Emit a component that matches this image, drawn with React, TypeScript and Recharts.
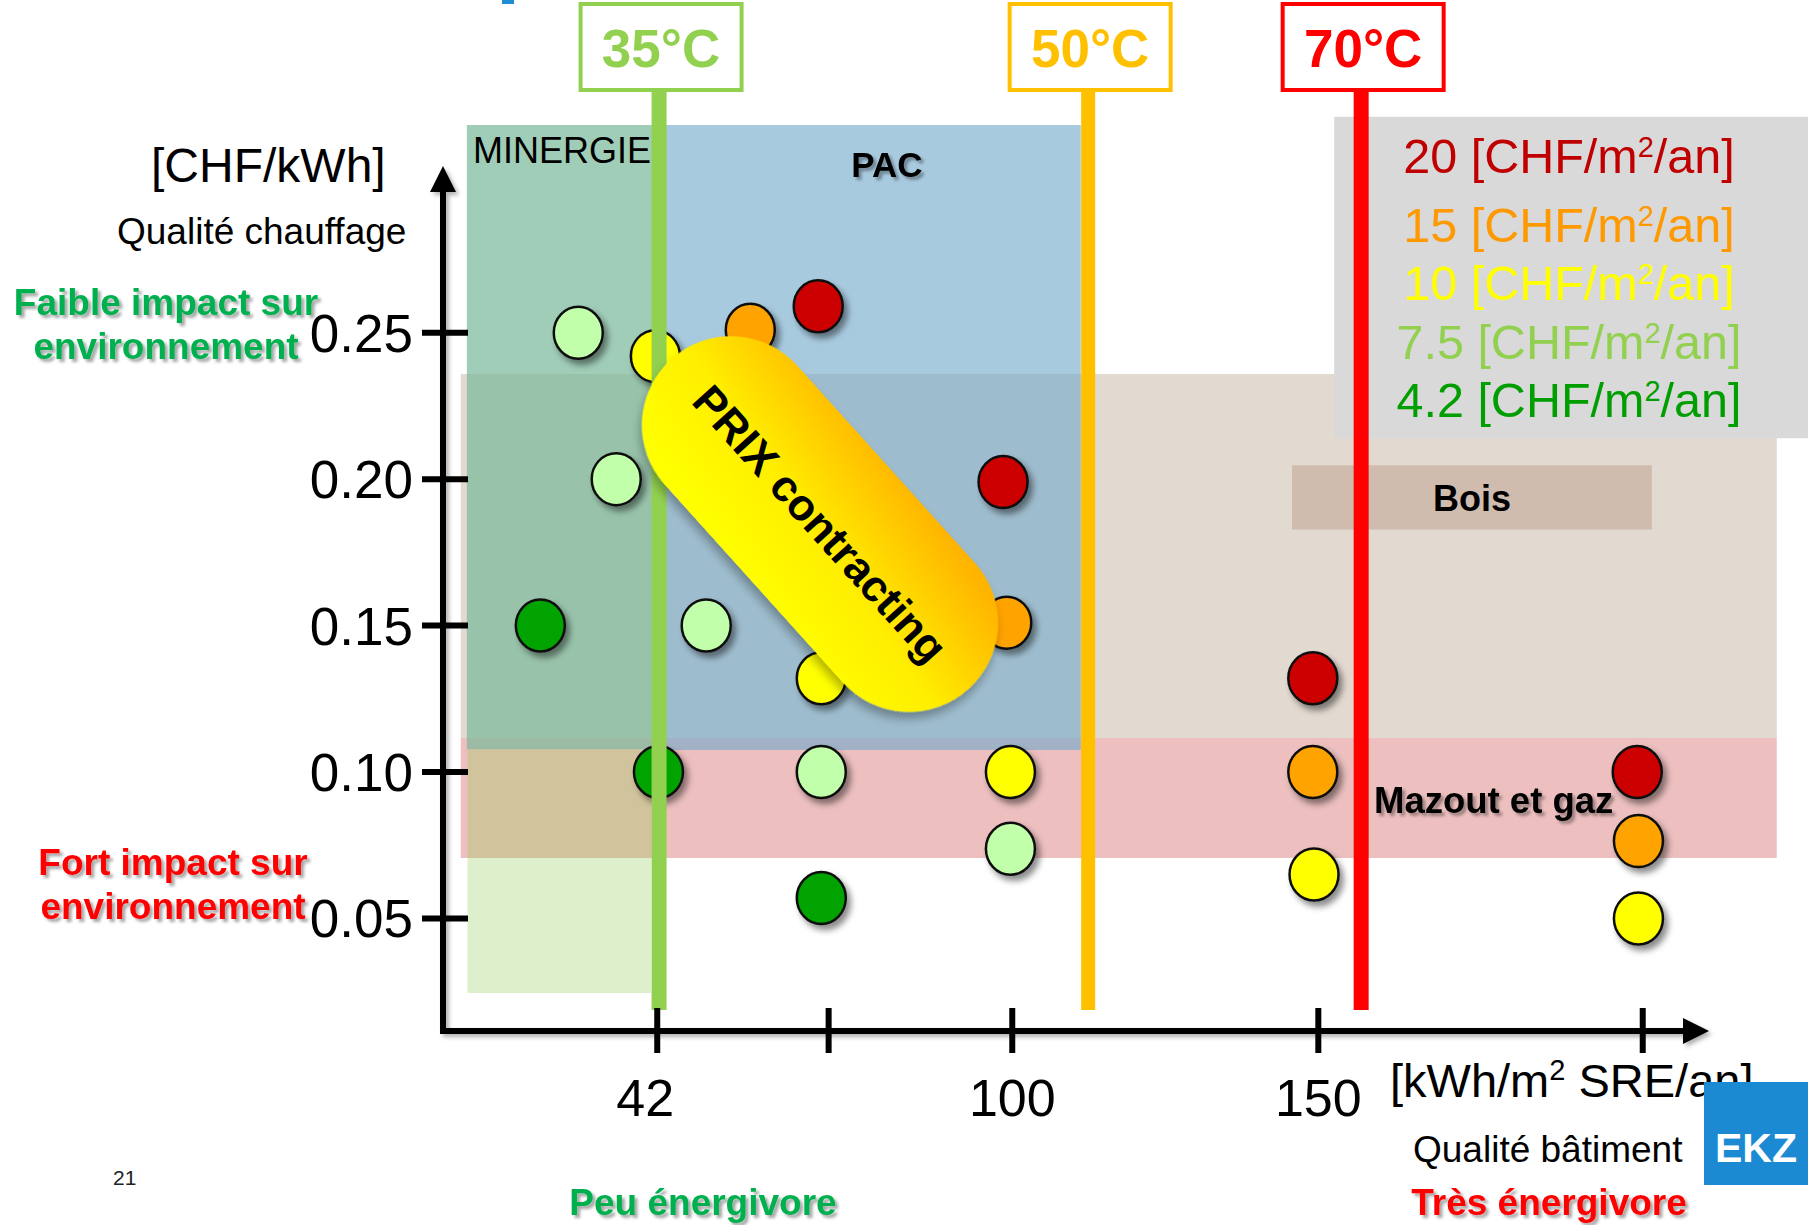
import React from 'react';
import { ScatterChart, Scatter, XAxis, YAxis, ReferenceArea } from 'recharts';

const FONT = '"Liberation Sans", Arial, Helvetica, sans-serif';

// x: consommation [kWh/m² SRE/an], y: prix [CHF/kWh]
const tarif20 = [
  { x: 68.3, y: 0.259 },
  { x: 98.5, y: 0.199 },
  { x: 149.1, y: 0.132 },
  { x: 202.1, y: 0.1 },
];
const tarif15 = [
  { x: 57.2, y: 0.251 },
  { x: 99.1, y: 0.151 },
  { x: 149.1, y: 0.1 },
  { x: 202.3, y: 0.0764 },
];
const tarif10 = [
  { x: 41.7, y: 0.242 },
  { x: 68.8, y: 0.132 },
  { x: 99.7, y: 0.1 },
  { x: 149.3, y: 0.065 },
  { x: 202.3, y: 0.05 },
];
const tarif75 = [
  { x: 29.1, y: 0.25 },
  { x: 35.3, y: 0.2 },
  { x: 50.0, y: 0.15 },
  { x: 68.8, y: 0.1 },
  { x: 99.7, y: 0.0738 },
];
const tarif42 = [
  { x: 22.9, y: 0.15 },
  { x: 42.2, y: 0.1 },
  { x: 68.8, y: 0.057 },
];

const SERIES = [tarif20, tarif15, tarif10, tarif75, tarif42];
const SERIES_COLORS = ['#CC0000', '#FFA300', '#FFFF00', '#C2FFAA', '#00A300'];
const LEGEND_VALUES = ['20', '15', '10', '7.5', '4.2'];
const LEGEND_COLORS = ['#C00000', '#FF9900', '#FFFF00', '#92D050', '#009E00'];

const X_TICKS = [42, 70, 100, 150, 203];
const X_TICK_LABELS = ['42', '', '100', '150', ''];
const Y_TICKS = [0.05, 0.1, 0.15, 0.2, 0.25];
const Y_TICK_LABELS = ['0.05', '0.10', '0.15', '0.20', '0.25'];

const TEMP_LABELS = ['35°C', '50°C', '70°C'];
const TEMP_X = [42.3, 112.4, 157];
const TEMP_COLORS = ['#92D050', '#FFC000', '#FF0000'];
const TEMP_Y_RANGE = [0.0187, 0.3329];

// zones in data space (drawn in this order)
const ZONES = [
  { key: 'bois', x1: 9.9, x2: 224.9, y1: 0.1116, y2: 0.2359, fill: '#E2D9D0', opacity: 1 },
  { key: 'mazout', x1: 9.9, x2: 224.9, y1: 0.0706, y2: 0.1116, fill: '#EDBFBF', opacity: 1 },
  { key: 'minergie-bas', x1: 11.0, x2: 41.0, y1: 0.0706, y2: 0.1078, fill: '#D1C49C', opacity: 1 },
  { key: 'minergie-clair', x1: 11.0, x2: 41.0, y1: 0.0245, y2: 0.0706, fill: '#DDEFCB', opacity: 1 },
  { key: 'legende', x1: 152.6, x2: 230, y1: 0.214, y2: 0.3237, fill: '#D9D9D9', opacity: 1 },
  { key: 'bois-label', x1: 145.7, x2: 204.5, y1: 0.1828, y2: 0.2047, fill: '#CFBCAE', opacity: 1 },
  { key: 'minergie', x1: 10.9, x2: 42.0, y1: 0.1078, y2: 0.3209, fill: '#7BBA9B', opacity: 0.72 },
  { key: 'pac', x1: 42.0, x2: 111.2, y1: 0.1075, y2: 0.3209, fill: '#73AACB', opacity: 0.62 },
];

const W = 1814;
const H = 1225;
const PLOT_LEFT = 443;
const PLOT_RIGHT = 1808;
const PLOT_TOP = 85;
const PLOT_BOTTOM = 1031;
const X_DOMAIN: [number, number] = [7, 230];
const Y_DOMAIN: [number, number] = [0.01156, 0.33458];

const xPx = (v: number) =>
  PLOT_LEFT + ((v - X_DOMAIN[0]) * (PLOT_RIGHT - PLOT_LEFT)) / (X_DOMAIN[1] - X_DOMAIN[0]);

const dotShape = (color: string) => (props: any) => (
  <ellipse
    cx={props.cx}
    cy={props.cy}
    rx={24.5}
    ry={26}
    fill={color}
    stroke="#111"
    strokeWidth={2.5}
    filter="url(#ptShadow)"
  />
);

const noShape = () => <g />;

const YTick = (props: any) => {
  const y = props.y;
  const i = Y_TICKS.indexOf(props.payload.value);
  return (
    <g>
      <line x1={422} x2={468} y1={y} y2={y} stroke="#000" strokeWidth={6} />
      <text x={413} y={y + 19} textAnchor="end" fontSize={53} fontFamily={FONT} fill="#000">
        {Y_TICK_LABELS[i]}
      </text>
    </g>
  );
};

const XTick = (props: any) => {
  const x = props.x;
  const v = props.payload.value;
  const i = X_TICKS.indexOf(v);
  return (
    <g>
      <line x1={x} x2={x} y1={PLOT_BOTTOM - 23} y2={PLOT_BOTTOM + 22} stroke="#000" strokeWidth={6} />
      <text
        x={x + (v === 42 ? -12 : 0)}
        y={PLOT_BOTTOM + 85}
        textAnchor="middle"
        fontSize={52}
        fontFamily={FONT}
        fill="#000"
      >
        {X_TICK_LABELS[i]}
      </text>
    </g>
  );
};

const Sup = ({ base, size }: { base: number; size: number }) => (
  <tspan dy={-base} fontSize={size}>
    2
  </tspan>
);

function Overlay() {
  const legendY = [173, 242, 300, 359, 417];
  return (
    <svg
      width={W}
      height={H}
      style={{ position: 'absolute', left: 0, top: 0, pointerEvents: 'none' }}
      fontFamily={FONT}
    >
      <defs>
        <filter id="ptShadow" x="-50%" y="-50%" width="200%" height="200%">
          <feDropShadow dx={4} dy={5} stdDeviation={3} floodColor="#000" floodOpacity={0.45} />
        </filter>
        <filter id="txtShadow" x="-10%" y="-30%" width="120%" height="160%">
          <feDropShadow dx={3} dy={3} stdDeviation={1.5} floodColor="#000" floodOpacity={0.35} />
        </filter>
        <filter id="axShadow" x="-5%" y="-5%" width="110%" height="110%">
          <feDropShadow dx={3} dy={3} stdDeviation={2} floodColor="#000" floodOpacity={0.3} />
        </filter>
        <filter id="pillShadow" x="-20%" y="-40%" width="140%" height="180%">
          <feDropShadow dx={4} dy={6} stdDeviation={5} floodColor="#000" floodOpacity={0.3} />
        </filter>
        <linearGradient id="pillGrad" x1="0.7" y1="0" x2="0.35" y2="1">
          <stop offset="0" stopColor="#FFB400" />
          <stop offset="0.55" stopColor="#FFEE00" />
          <stop offset="1" stopColor="#FFFF00" />
        </linearGradient>
      </defs>

      <rect x={502} y={0} width={12} height={4} fill="#1F8DD6" />

      {/* axes with arrows */}
      <g filter="url(#axShadow)">
        <line x1={443} y1={1034} x2={443} y2={186} stroke="#000" strokeWidth={6} />
        <polygon points="443,166 430,192 456,192" fill="#000" />
        <line x1={440} y1={1031} x2={1688} y2={1031} stroke="#000" strokeWidth={6} />
        <polygon points="1709,1031 1683,1018 1683,1044" fill="#000" />
      </g>

      {/* temperature boxes */}
      {TEMP_LABELS.map((t, i) => {
        const cx = xPx(TEMP_X[i]) + 2;
        return (
          <g key={t}>
            <rect x={cx - 80.5} y={4} width={161} height={86} fill="#fff" stroke={TEMP_COLORS[i]} strokeWidth={4} />
            <text x={cx} y={67} textAnchor="middle" fontSize={53} fontWeight="bold" fill={TEMP_COLORS[i]}>
              {t}
            </text>
          </g>
        );
      })}

      {/* axis titles */}
      <text x={151} y={182} fontSize={48} fill="#000">[CHF/kWh]</text>
      <text x={117} y={244} fontSize={37} fill="#000">Qualité chauffage</text>
      <g filter="url(#txtShadow)" fontWeight="bold" fontSize={37} textAnchor="middle">
        <text x={166} y={315} fill="#00B050">Faible impact sur</text>
        <text x={166} y={359} fill="#00B050">environnement</text>
        <text x={173} y={875} fill="#FF0000">Fort impact sur</text>
        <text x={173} y={919} fill="#FF0000">environnement</text>
        <text x={703} y={1215} fill="#00B050">Peu énergivore</text>
        <text x={1549} y={1215} fill="#FF0000">Très énergivore</text>
      </g>
      <text x={1390} y={1097} fontSize={47} fill="#000">
        [kWh/m<Sup base={17} size={29} />
        <tspan dy={17} fontSize={47}> SRE/an]</tspan>
      </text>
      <text x={1413} y={1162} fontSize={37} fill="#000">Qualité bâtiment</text>
      <rect x={1704} y={1082} width={104} height={103} fill="#1B8AD3" />
      <text x={1756} y={1162} textAnchor="middle" fontSize={41} fontWeight="bold" fill="#fff">EKZ</text>
      <text x={113} y={1185} fontSize={21} fill="#222">21</text>

      {/* zone labels */}
      <text x={473} y={163} fontSize={36} fill="#000">MINERGIE</text>
      <text x={887} y={177} textAnchor="middle" fontSize={35} fontWeight="bold" fill="#000" filter="url(#txtShadow)">PAC</text>
      <text x={1472} y={511} textAnchor="middle" fontSize={36} fontWeight="bold" fill="#000">Bois</text>
      <text x={1374} y={813} fontSize={36.5} fontWeight="bold" fill="#000" filter="url(#txtShadow)">Mazout et gaz</text>

      {/* legend */}
      {LEGEND_VALUES.map((v, i) => (
        <text key={v} x={1569} y={legendY[i]} textAnchor="middle" fontSize={48.5} fill={LEGEND_COLORS[i]}>
          {v} [CHF/m<Sup base={16} size={29} />
          <tspan dy={16} fontSize={48.5}>/an]</tspan>
        </text>
      ))}

      {/* PRIX contracting pill */}
      <g transform="translate(820,524) rotate(48)">
        <rect x={-222} y={-89} width={444} height={178} rx={89} fill="url(#pillGrad)" filter="url(#pillShadow)" />
        <text x={0} y={15} textAnchor="middle" fontSize={44} fontWeight="bold" fill="#000">
          PRIX contracting
        </text>
      </g>
    </svg>
  );
}

export default function App() {
  return (
    <div style={{ position: 'absolute', left: 0, top: 0, width: W, height: H, background: '#fff' }}>
      <ScatterChart
        width={W}
        height={H}
        margin={{ top: PLOT_TOP, right: W - PLOT_RIGHT, bottom: 0, left: 0 }}
      >
        <XAxis
          type="number"
          dataKey="x"
          domain={X_DOMAIN}
          allowDataOverflow
          ticks={X_TICKS}
          interval={0}
          height={H - PLOT_BOTTOM}
          axisLine={false}
          tickLine={false}
          tick={<XTick />}
        />
        <YAxis
          type="number"
          dataKey="y"
          domain={Y_DOMAIN}
          allowDataOverflow
          ticks={Y_TICKS}
          interval={0}
          width={PLOT_LEFT}
          axisLine={false}
          tickLine={false}
          tick={<YTick />}
        />
        {ZONES.map((z) => (
          <ReferenceArea
            key={z.key}
            x1={z.x1}
            x2={z.x2}
            y1={z.y1}
            y2={z.y2}
            fill={z.fill}
            fillOpacity={z.opacity}
            stroke="none"
            ifOverflow="visible"
          />
        ))}
        {SERIES.map((s, i) => (
          <Scatter
            key={LEGEND_VALUES[i]}
            name={`${LEGEND_VALUES[i]} [CHF/m²/an]`}
            data={s}
            fill={SERIES_COLORS[i]}
            shape={dotShape(SERIES_COLORS[i])}
            isAnimationActive={false}
          />
        ))}
        {/* temperature limits: vertical lines drawn above the dots */}
        {TEMP_X.map((x, i) => (
          <Scatter
            key={TEMP_LABELS[i]}
            name={TEMP_LABELS[i]}
            data={TEMP_Y_RANGE.map((y) => ({ x, y }))}
            fill={TEMP_COLORS[i]}
            line={{ stroke: TEMP_COLORS[i], strokeWidth: i === 1 ? 14 : 15 }}
            shape={noShape}
            isAnimationActive={false}
          />
        ))}
      </ScatterChart>
      <Overlay />
    </div>
  );
}
